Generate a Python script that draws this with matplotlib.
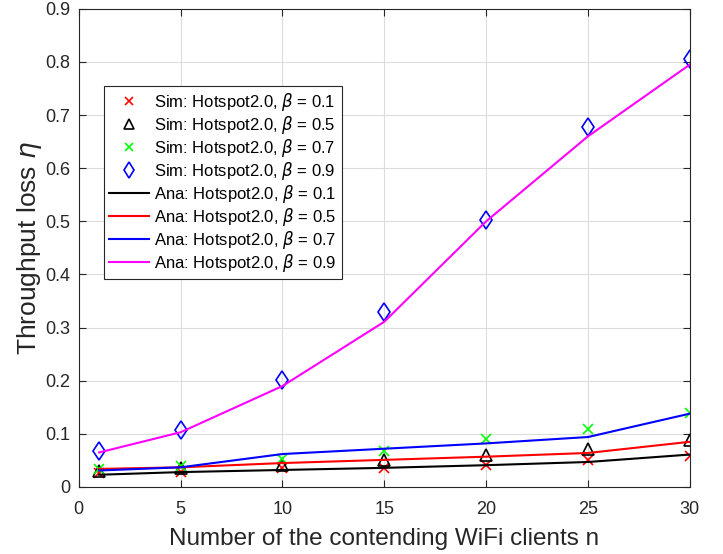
import matplotlib
matplotlib.use("Agg")
import matplotlib.pyplot as plt

plt.rcParams['font.family'] = ['Liberation Sans', 'DejaVu Sans']
plt.rcParams['mathtext.fontset'] = 'dejavusans'

n = [1, 5, 10, 15, 20, 25, 30]

sim_b01 = [0.027, 0.029, 0.035, 0.036, 0.042, 0.050, 0.058]
sim_b05 = [0.030, 0.035, 0.041, 0.050, 0.061, 0.072, 0.088]
sim_b07 = [0.033, 0.039, 0.053, 0.067, 0.090, 0.109, 0.139]
sim_b09 = [0.068, 0.108, 0.202, 0.330, 0.503, 0.678, 0.805]

ana_b01 = [0.023, 0.028, 0.032, 0.036, 0.041, 0.047, 0.061]
ana_b05 = [0.034, 0.037, 0.045, 0.051, 0.057, 0.064, 0.085]
ana_b07 = [0.031, 0.037, 0.062, 0.072, 0.082, 0.094, 0.138]
ana_b09 = [0.065, 0.103, 0.190, 0.311, 0.500, 0.660, 0.795]

xticks = [0, 5, 10, 15, 20, 25, 30]
yticks = [0, 0.1, 0.2, 0.3, 0.4, 0.5, 0.6, 0.7, 0.8, 0.9]
ytick_labels = ['0', '0.1', '0.2', '0.3', '0.4', '0.5', '0.6', '0.7', '0.8', '0.9']

fig = plt.figure(figsize=(7.23, 5.54), dpi=100)
ax = fig.add_axes([0.109, 0.121, 0.845, 0.863])

ax.plot(n, sim_b01, linestyle='none', marker='x', color='#ff0000', ms=7, mew=1.2,
        label=r'Sim: Hotspot2.0, $\beta$ = 0.1')
ax.plot(n, sim_b05, linestyle='none', marker='^', color='black', mfc='none', ms=8, mew=1.2,
        label=r'Sim: Hotspot2.0, $\beta$ = 0.5')
ax.plot(n, sim_b07, linestyle='none', marker='x', color='#00ff00', ms=7, mew=1.2,
        label=r'Sim: Hotspot2.0, $\beta$ = 0.7')
ax.plot(n, sim_b09, linestyle='none', marker='d', color='#0000ff', mfc='none', ms=9.5, mew=1.2,
        label=r'Sim: Hotspot2.0, $\beta$ = 0.9')
ax.plot(n, ana_b01, color='black', lw=1.5, label=r'Ana: Hotspot2.0, $\beta$ = 0.1')
ax.plot(n, ana_b05, color='#ff0000', lw=1.5, label=r'Ana: Hotspot2.0, $\beta$ = 0.5')
ax.plot(n, ana_b07, color='#0000ff', lw=1.5, label=r'Ana: Hotspot2.0, $\beta$ = 0.7')
ax.plot(n, ana_b09, color='#ff00ff', lw=1.5, label=r'Ana: Hotspot2.0, $\beta$ = 0.9')

ax.set_xlim(0, 30)
ax.set_ylim(0, 0.9)
ax.set_xticks(xticks)
ax.set_yticks(yticks)
ax.set_yticklabels(ytick_labels)
ax.tick_params(direction='in', top=True, right=True, labelsize=13, colors='#262626',
               length=5, width=0.8)
ax.tick_params(axis='x', pad=10)
ax.tick_params(axis='y', pad=6)
ax.grid(True, color='#dcdcdc', lw=0.8)
ax.set_axisbelow(True)
for s in ax.spines.values():
    s.set_color('#262626')
    s.set_linewidth(0.8)

ax.set_xlabel('Number of the contending WiFi clients n', fontsize=17.5, color='#262626', labelpad=7)
ax.set_ylabel(r'Throughput loss $\eta$', fontsize=19, color='#262626', labelpad=1)

leg = ax.legend(loc='upper left', bbox_to_anchor=(0.042, 0.838), fontsize=12,
                frameon=True, fancybox=False, edgecolor='#262626', framealpha=1,
                borderpad=0.3, labelspacing=0.06, handlelength=2.4, handletextpad=0.3,
                borderaxespad=0, markerscale=0.85)
leg.get_frame().set_linewidth(0.8)

fig.savefig('out.png', dpi=100)
